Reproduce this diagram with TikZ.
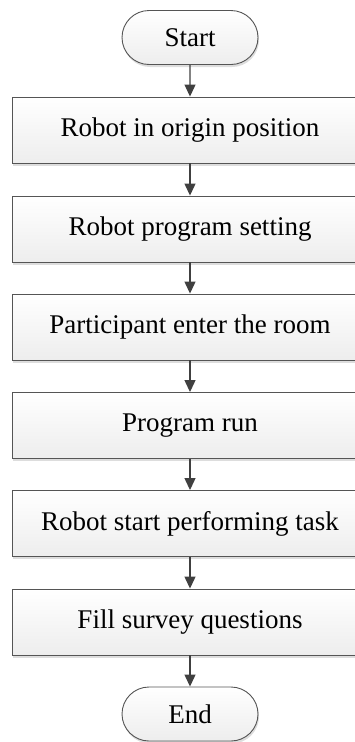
\documentclass[tikz,border=0pt]{standalone}
\usepackage{fontspec}
\setmainfont{Liberation Serif}
\usetikzlibrary{arrows.meta,shapes.misc,shadows}
\definecolor{edge}{HTML}{555555}
\definecolor{arr}{HTML}{404040}
\tikzset{
  base/.style={draw=edge, line width=0.9pt, top color=white, bottom color=gray!14,
    font=\fontsize{27}{31}\selectfont, text=black,
    drop shadow={shadow xshift=1pt, shadow yshift=-2.5pt, fill=gray!45, opacity=0.6}},
  stepbox/.style={base, rectangle, minimum width=356pt, minimum height=66pt, inner sep=0pt},
  term/.style={base, rounded rectangle, minimum width=136pt, minimum height=54pt, inner sep=0pt},
  flow/.style={draw=arr, line width=1.2pt, -{Triangle[length=12pt,width=11pt]}}
}
\begin{document}
\begin{tikzpicture}[x=1pt,y=1pt]
\useasboundingbox (0,0) rectangle (355,-742);
\clip (0,0) rectangle (355,-742);
\node[term] (start) at (190,-37.5) {Start};
\node[stepbox] (b1) at (190,-130) {Robot in origin position};
\node[stepbox] (b2) at (190,-229) {Robot program setting};
\node[stepbox] (b3) at (190,-327) {Participant enter the room};
\node[stepbox] (b4) at (190,-425.5) {Program run};
\node[stepbox] (b5) at (190,-523.5) {Robot start performing task};
\node[stepbox] (b6) at (190,-622) {Fill survey questions};
\node[term] (end) at (190,-714) {End};
\draw[flow] (start) -- (b1);
\draw[flow] (b1) -- (b2);
\draw[flow] (b2) -- (b3);
\draw[flow] (b3) -- (b4);
\draw[flow] (b4) -- (b5);
\draw[flow] (b5) -- (b6);
\draw[flow] (b6) -- (end);
\end{tikzpicture}
\end{document}
